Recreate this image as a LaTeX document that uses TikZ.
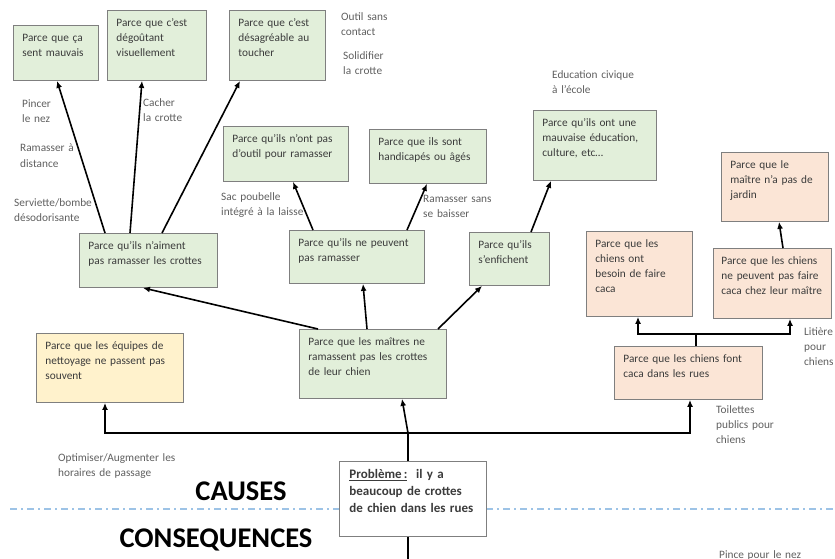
\documentclass[tikz,border=0pt]{standalone}
\usepackage{fontspec}
\setmainfont{Carlito}
\usetikzlibrary{arrows.meta}
\definecolor{vert}{HTML}{E2EFDA}
\definecolor{saumon}{HTML}{FBE5D6}
\definecolor{jaune}{HTML}{FFF2CC}
\definecolor{bord}{HTML}{7F7F7F}
\definecolor{texte}{HTML}{3B3B3B}
\definecolor{grisnote}{HTML}{5F5F5F}
\definecolor{tiret}{HTML}{9DC3E6}
\tikzset{
  cause/.style={draw=bord, line width=0.9pt, text=texte, anchor=north west,
    align=left, inner xsep=9pt, inner ysep=0pt, text height=16.5pt,
    font=\fontsize{11.3}{15}\selectfont},
  taille/.style 2 args={text width=#1, text depth=#2},
  note/.style={text=grisnote, anchor=base west, align=left, inner sep=0pt,
    text width=140pt, font=\fontsize{11.3}{15}\selectfont},
  fleche/.style={-{Latex[length=7pt,width=6pt]}, line width=1.6pt},
  trait/.style={line width=1.6pt},
  titre/.style={anchor=base, inner sep=0pt, font=\bfseries\fontsize{28.5}{30}\selectfont}
}
\begin{document}
\begin{tikzpicture}[x=1pt,y=-1pt]
\useasboundingbox (0,0) rectangle (835,559);
\draw[tiret, line width=1.2pt, dash pattern=on 7pt off 4pt on 2pt off 4pt] (10,509) -- (835,509);
\node[titre] (causes) at (241,500) {CAUSES};
\node[titre] (consq) at (216,547) {CONSEQUENCES};

\node[cause, fill=vert, taille={67pt}{38.5pt}] (b1) at (13,25) {Parce que ça\\sent mauvais};
\node[cause, fill=vert, taille={81pt}{53.5pt}] (b2) at (107,10) {Parce que c’est\\dégoûtant\\visuellement};
\node[cause, fill=vert, taille={78pt}{53.5pt}] (b3) at (229,10) {Parce que c’est\\désagréable au\\toucher};
\node[cause, fill=vert, taille={120pt}{37.5pt}] (b4) at (79,233) {Parce qu’ils n’aiment\\pas ramasser les crottes};
\node[cause, fill=vert, taille={107pt}{38.5pt}] (b5) at (223,126) {Parce qu’ils n’ont pas\\d’outil pour ramasser};
\node[cause, fill=vert, taille={99pt}{37.5pt}] (b6) at (369,129) {Parce que ils sont\\handicapés ou âgés};
\node[cause, fill=vert, taille={117pt}{36.5pt}] (b7) at (289,230) {Parce qu’ils ne peuvent\\pas ramasser};
\node[cause, fill=vert, taille={62pt}{36.5pt}] (b8) at (469,232) {Parce qu’ils\\s’enfichent};
\node[cause, fill=vert, taille={105pt}{53.5pt}] (b9) at (533,110) {Parce qu’ils ont une\\mauvaise éducation,\\culture, etc…};
\node[cause, fill=saumon, taille={89pt}{52.5pt}] (b10) at (721,152) {Parce que le\\maître n’a pas de\\jardin};
\node[cause, fill=saumon, taille={88pt}{68.5pt}] (b11) at (586,231) {Parce que les\\chiens ont\\besoin de faire\\caca};
\node[cause, fill=saumon, inner xsep=8pt, taille={102pt}{53.5pt}] (b12) at (713,248) {Parce que les chiens\\ne peuvent pas faire\\caca chez leur maître};
\node[cause, fill=saumon, taille={130pt}{36.5pt}] (b13) at (614,346) {Parce que les chiens font\\caca dans les rues};
\node[cause, fill=vert, taille={129pt}{52.5pt}] (b14) at (299,329) {Parce que les maîtres ne\\ramassent pas les crottes\\de leur chien};
\node[cause, fill=jaune, taille={129pt}{52.5pt}] (b15) at (36,333) {Parce que les équipes de\\nettoyage ne passent pas\\souvent};
\node[cause, fill=white, inner xsep=10pt, text height=17pt, taille={127pt}{58pt},
  font=\bfseries\fontsize{13}{17}\selectfont] (prob) at (339,461)
  {\underline{Problème\,:}\ \ il y a\\beaucoup de crottes\\de chien dans les rues};

\node[note] (n1) at (341,20.5) {Outil sans\\contact};
\node[note] (n2) at (343,60) {Solidifier\\la crotte};
\node[note] (n3) at (22,108) {Pincer\\le nez};
\node[note] (n4) at (20,152) {Ramasser à\\distance};
\node[note] (n5) at (14,206) {Serviette/bombe\\désodorisante};
\node[note] (n6) at (143,107) {Cacher\\la crotte};
\node[note] (n7) at (221,200) {Sac poubelle\\intégré à la laisse};
\node[note] (n8) at (423,202) {Ramasser sans\\se baisser};
\node[note] (n9) at (552,79) {Education civique\\à l’école};
\node[note] (n10) at (804,335) {Litière\\pour\\chiens};
\node[note] (n11) at (716,413) {Toilettes\\publics pour\\chiens};
\node[note] (n12) at (58,461) {Optimiser/Augmenter les\\horaires de passage};
\node[note] (n13) at (719,558) {Pince pour le nez};

\draw[fleche] ([xshift=26pt]b4.north west) -- ([xshift=44pt]b1.south west);
\draw[fleche] ([xshift=51pt]b4.north west) -- ([xshift=35pt]b2.south west);
\draw[fleche] ([xshift=83pt]b4.north west) -- ([xshift=11pt]b3.south west);
\draw[fleche] ([xshift=24pt]b7.north west) -- ([xshift=70pt]b5.south west);
\draw[fleche] ([xshift=118pt]b7.north west) -- ([xshift=58pt]b6.south west);
\draw[fleche] ([xshift=62pt]b8.north west) -- ([xshift=18pt]b9.south west);
\draw[fleche] ([xshift=19pt]b14.north west) -- ([xshift=64pt]b4.south west);
\draw[fleche] ([xshift=68pt]b14.north west) -- ([xshift=74pt]b7.south west);
\draw[fleche] ([xshift=139pt]b14.north west) -- ([xshift=13pt]b8.south west);
\draw[fleche] ([xshift=70pt]b12.north west) -- ([xshift=58pt]b10.south west);

\coordinate (j) at ([xshift=69pt,yshift=28pt]prob.north west);
\draw[trait] (prob.north -| j) -- (j);
\draw[fleche] (j) -- ([xshift=103pt]b14.south west);
\draw[fleche] (j) -| ([xshift=69pt]b15.south west);
\draw[fleche] (j) -| ([xshift=76pt]b13.south west);
\coordinate (fin) at (408,562);
\draw[trait] (prob.south -| fin) -- (fin);

\coordinate (k) at ([xshift=82pt,yshift=12pt]b13.north west);
\draw[trait] (b13.north -| k) -- (k);
\draw[fleche] (k) -| ([xshift=52pt]b11.south west);
\draw[fleche] (k) -| ([xshift=77pt]b12.south west);
\end{tikzpicture}
\end{document}
